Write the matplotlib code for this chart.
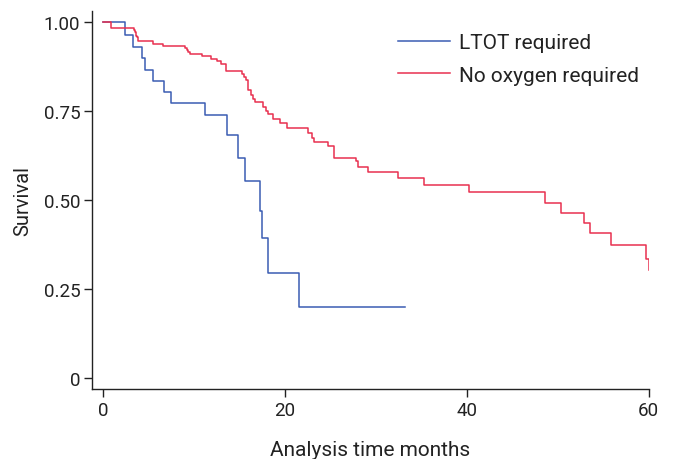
import matplotlib
matplotlib.use("Agg")
import matplotlib.pyplot as plt

# Kaplan-Meier steps (time in months, survival after the step)
ltot_time = [0, 2.4, 3.3, 4.25, 4.6, 5.5, 6.7, 7.5, 11.2, 13.6, 14.9, 15.6,
             17.3, 17.5, 18.2, 21.6, 33.2]
ltot_surv = [1.0, 0.965, 0.931, 0.900, 0.866, 0.835, 0.805, 0.773, 0.740,
             0.684, 0.619, 0.553, 0.470, 0.393, 0.294, 0.199, 0.199]

nooxy_time = [0, 0.9, 3.4, 3.5, 3.6, 3.8, 3.9, 5.5, 6.6, 9.0, 9.2, 9.4, 9.6,
              10.9, 11.9, 12.5, 13.0, 13.5, 15.3, 15.5, 15.7, 15.9, 16.0,
              16.3, 16.5, 16.7, 17.6, 17.9, 18.1, 18.7, 19.5, 20.2, 22.5,
              23.0, 23.2, 24.7, 25.4, 27.8, 28.0, 29.2, 32.5, 35.3, 40.3,
              48.6, 50.4, 52.9, 53.6, 55.9, 59.7, 60.0]
nooxy_surv = [1.0, 0.985, 0.979, 0.972, 0.963, 0.958, 0.949, 0.940, 0.933,
              0.929, 0.923, 0.917, 0.912, 0.905, 0.896, 0.890, 0.883, 0.864,
              0.856, 0.847, 0.839, 0.830, 0.810, 0.796, 0.784, 0.777, 0.761,
              0.752, 0.741, 0.728, 0.716, 0.703, 0.690, 0.676, 0.663, 0.651,
              0.620, 0.609, 0.594, 0.578, 0.563, 0.543, 0.522, 0.492, 0.464,
              0.435, 0.408, 0.375, 0.335, 0.304]

labels = ["LTOT required", "No oxygen required"]
x_ticks = [0, 20, 40, 60]
y_ticks = [0, 0.25, 0.5, 0.75, 1.0]
y_ticklabels = ["0", "0.25", "0.50", "0.75", "1.00"]

plt.rcParams["font.family"] = ["Roboto", "DejaVu Sans"]
txt = "#222222"

fig = plt.figure(figsize=(6.75, 4.6), dpi=100)
ax = fig.add_axes([92 / 675, 1 - 390 / 460, (649 - 92) / 675, (390 - 12) / 460])

ax.step(ltot_time, ltot_surv, where="post", color="#3a5cb3", lw=1.1, label=labels[0])
ax.step(nooxy_time, nooxy_surv, where="post", color="#e8304f", lw=1.1, label=labels[1])

ax.set_xlim(-1.2, 60.05)
ax.set_ylim(-0.031, 1.032)
ax.set_xticks(x_ticks)
ax.set_yticks(y_ticks)
ax.set_yticklabels(y_ticklabels)
ax.tick_params(labelsize=13.5, colors=txt, length=5.5, width=1, pad=3)
for s in ["top", "right"]:
    ax.spines[s].set_visible(False)
for s in ["left", "bottom"]:
    ax.spines[s].set_color(txt)
    ax.spines[s].set_linewidth(1)

ax.set_xlabel("Analysis time months", fontsize=15, color=txt, labelpad=15)
ax.set_ylabel("Survival", fontsize=14.5, color=txt, labelpad=8)

leg = ax.legend(loc="upper left", bbox_to_anchor=(398 / 675, 1 - 34 / 460),
                bbox_transform=fig.transFigure, frameon=False, fontsize=15,
                handlelength=2.5, handletextpad=0.45, labelspacing=0.65,
                borderaxespad=0, borderpad=0)
for t in leg.get_texts():
    t.set_color(txt)

fig.savefig("out.png", dpi=100)
